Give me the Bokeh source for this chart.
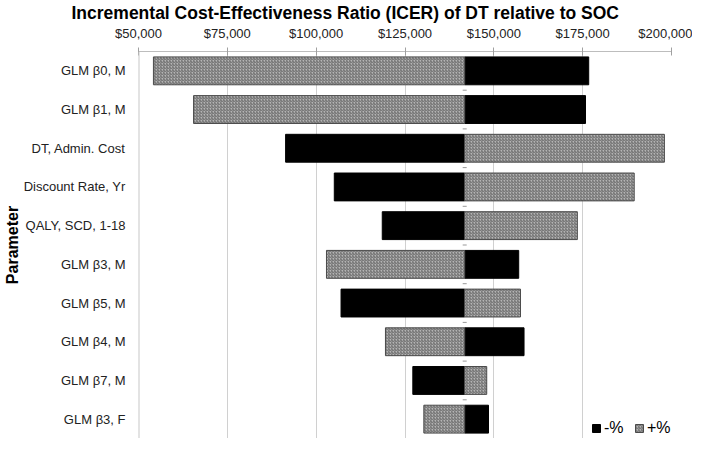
from bokeh.plotting import figure
from bokeh.models import (Range1d, FactorRange, FixedTicker, NumeralTickFormatter,
                          Legend, LegendItem, ColumnDataSource, Span)
from bokeh.transform import dodge
from bokeh.embed import file_html
from bokeh.resources import INLINE

parameters = ["GLM β0, M", "GLM β1, M", "DT, Admin. Cost", "Discount Rate, Yr",
              "QALY, SCD, 1-18", "GLM β3, M", "GLM β5, M", "GLM β4, M",
              "GLM β7, M", "GLM β3, F"]
base_icer = 141800
minus_icer = [176700, 175800, 91400, 105100, 118600, 157000, 107000, 158500, 127200, 148500]
plus_icer = [54200, 65500, 198000, 189500, 173500, 102900, 157500, 119500, 148000, 130300]
x_ticks = [50000, 75000, 100000, 125000, 150000, 175000, 200000]
title_text = "Incremental Cost-Effectiveness Ratio (ICER) of DT relative to SOC"

FONT = "Liberation Sans"

src_minus = ColumnDataSource(dict(
    y=parameters,
    left=[min(base_icer, v) for v in minus_icer],
    right=[max(base_icer, v) for v in minus_icer]))
src_plus = ColumnDataSource(dict(
    y=parameters,
    left=[min(base_icer, v) for v in plus_icer],
    right=[max(base_icer, v) for v in plus_icer]))
src_base = ColumnDataSource(dict(y=parameters, x=[base_icer] * len(parameters)))

p = figure(width=692, height=438,
           y_range=FactorRange(factors=list(reversed(parameters))),
           x_range=Range1d(x_ticks[0], x_ticks[-1]),
           x_axis_location="above",
           output_backend="svg", toolbar_location=None,
           min_border_left=129, min_border_right=21,
           min_border_top=0, min_border_bottom=0)

p.title.text = title_text
p.title.text_font = FONT
p.title.text_font_size = "17.5px"
p.title.text_font_style = "bold"
p.title.align = "left"
p.title.offset = -67
p.title.standoff = 0
p.title.text_color = "#000000"

p.add_layout(Span(location=x_ticks[0], dimension="height",
                  line_color="#c8c8c8", line_width=2))

r_minus = p.hbar(y="y", left="left", right="right", height=0.72, source=src_minus,
                 fill_color="#000000", line_color="#000000", line_width=1)
r_plus = p.hbar(y="y", left="left", right="right", height=0.72, source=src_plus,
                fill_color="#b4b4b4", line_color="#4a4a4a", line_width=1,
                hatch_pattern="right_diagonal_line", hatch_color="#555555",
                hatch_scale=3, hatch_weight=0.8)

p.scatter(x="x", y=dodge("y", -0.5, range=p.y_range), source=src_base,
          marker="dash", size=4, line_color="#999999", line_width=1)

p.xaxis.ticker = FixedTicker(ticks=x_ticks)
p.xaxis.formatter = NumeralTickFormatter(format="$0,0")
p.xaxis.major_label_text_font = FONT
p.xaxis.major_label_text_font_size = "13px"
p.xaxis.major_label_text_color = "#222222"
p.xaxis.major_tick_in = 4
p.xaxis.major_tick_out = 4
p.xaxis.major_tick_line_color = "#a0a0a0"
p.xaxis.minor_tick_line_color = None
p.xaxis.axis_line_color = "#bdbdbd"
p.xaxis.major_label_standoff = 7

p.yaxis.axis_line_color = None
p.yaxis.major_tick_line_color = None
p.yaxis.minor_tick_line_color = None
p.yaxis.major_label_text_font = FONT
p.yaxis.major_label_text_font_size = "13px"
p.yaxis.major_label_text_color = "#222222"
p.yaxis.major_label_standoff = 7
p.yaxis.axis_label = "Parameter"
p.yaxis.axis_label_text_font = FONT
p.yaxis.axis_label_text_font_size = "16px"
p.yaxis.axis_label_text_font_style = "bold"
p.yaxis.axis_label_text_color = "#000000"
p.yaxis.axis_label_standoff = 0

p.xgrid.grid_line_color = "#d0d0d0"
p.ygrid.grid_line_color = None
p.outline_line_color = None

legend = Legend(items=[LegendItem(label="-%", renderers=[r_minus]),
                       LegendItem(label="+%", renderers=[r_plus])],
                location=(453, 1), orientation="horizontal",
                glyph_width=10, glyph_height=10, label_standoff=3, spacing=10,
                padding=0, margin=0, border_line_alpha=0, background_fill_alpha=0,
                label_text_font=FONT, label_text_font_size="16px",
                label_text_color="#000000")
p.add_layout(legend)

open("out.html", "w").write(file_html(p, INLINE))
